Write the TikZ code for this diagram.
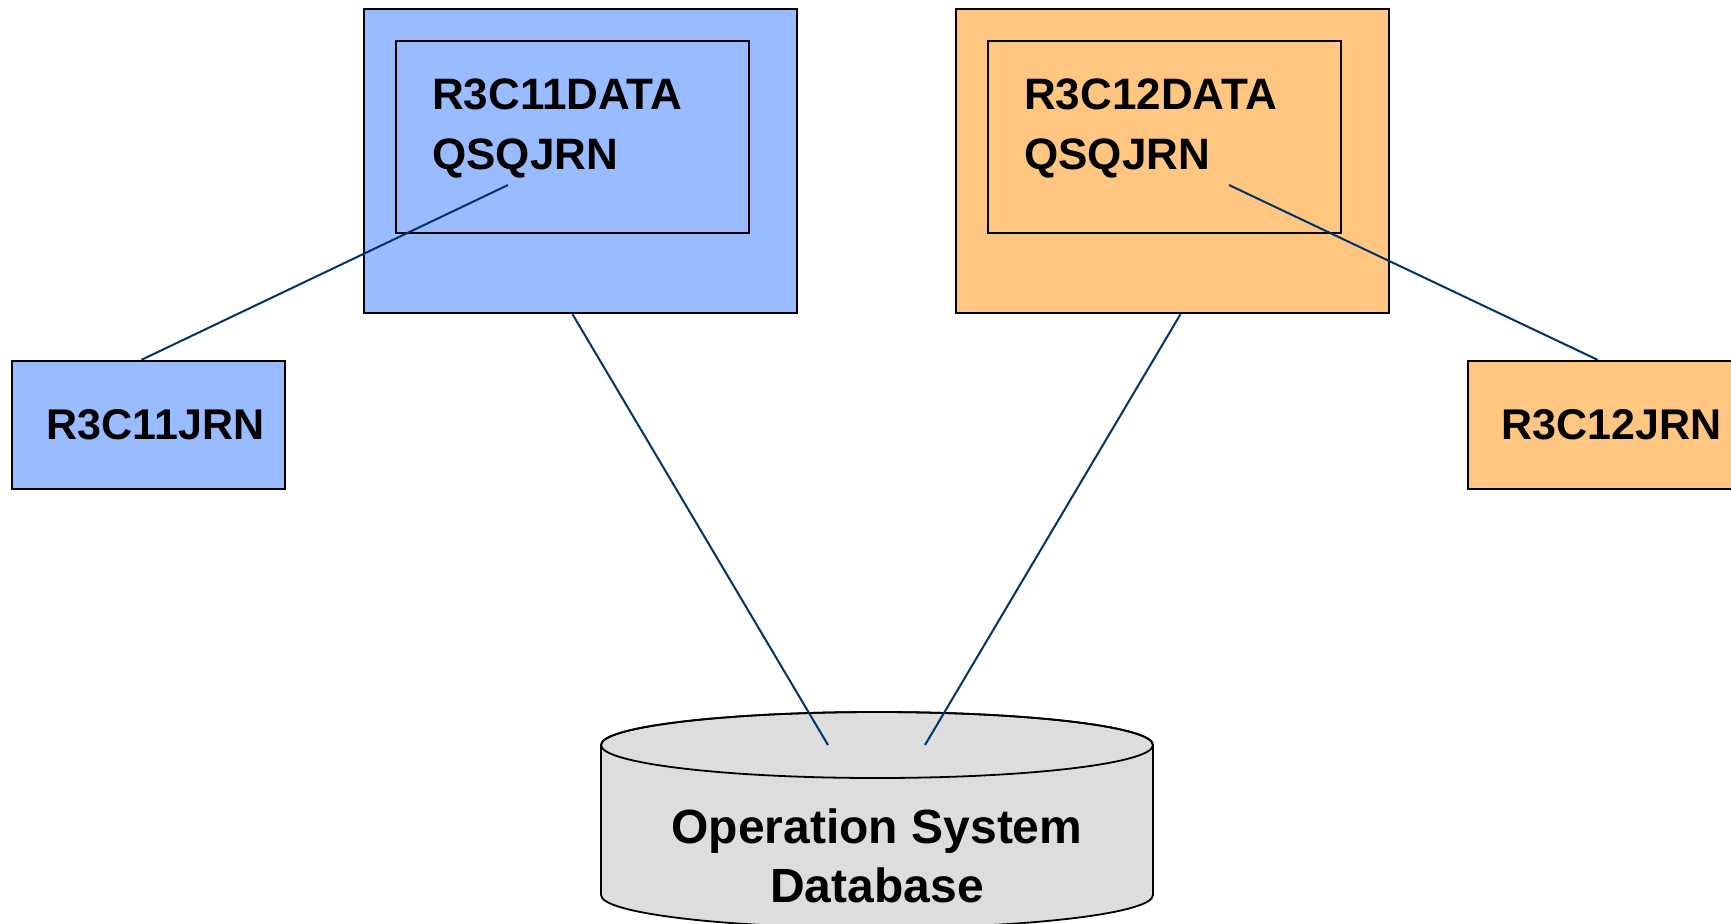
\documentclass[tikz,border=0pt]{standalone}
\usepackage{fontspec}
\setmainfont{Liberation Sans}
\usetikzlibrary{positioning}
\definecolor{libblue}{RGB}{153,187,255}
\definecolor{liborange}{RGB}{254,198,128}
\definecolor{dbgray}{RGB}{221,221,221}
\definecolor{linkblue}{RGB}{0,51,102}

\begin{document}
\begin{tikzpicture}[x=0.5pt,y=-0.5pt,
    outerbox/.style={draw=black,line width=1.2pt,minimum width=216.5pt,minimum height=152pt,inner sep=0pt},
    innerbox/.style={draw=black,line width=1.2pt,minimum width=176.5pt,minimum height=96pt,inner sep=0pt},
    jrnbox/.style={draw=black,line width=1.2pt,minimum width=136.5pt,minimum height=64pt,inner sep=0pt,
                   font=\fontsize{21.5}{26}\selectfont\bfseries},
    lbl/.style={inner sep=0pt,font=\fontsize{22}{26}\selectfont\bfseries},
    dblbl/.style={inner sep=0pt,font=\fontsize{24}{28}\selectfont\bfseries},
    link/.style={draw=linkblue,line width=1pt}]

 \useasboundingbox (0,0) rectangle (1731,923);

 % libraries
 \node[outerbox,fill=libblue](sys11) at (580.5,161) {};
 \node[innerbox,fill=libblue](lib11) at ([shift={(-8,-24)}]sys11.center) {};
 \node[lbl,anchor=base west](dat11) at ([shift={(37,70)}]lib11.north west) {R3C11DATA};
 \node[lbl,anchor=base west](jq11)  at ([shift={(0,60)}]dat11.base west)   {QSQJRN};

 \node[outerbox,fill=liborange](sys12) at (1172.5,161) {};
 \node[innerbox,fill=liborange](lib12) at ([shift={(-8,-24)}]sys12.center) {};
 \node[lbl,anchor=base west](dat12) at ([shift={(37,70)}]lib12.north west) {R3C12DATA};
 \node[lbl,anchor=base west](jq12)  at ([shift={(0,60)}]dat12.base west)   {QSQJRN};

 % journal receivers
 \node[jrnbox,fill=libblue](jrn11)   at (148.5,425)  {\hspace*{7pt}R3C11JRN};
 \node[jrnbox,fill=liborange](jrn12) at (1604.5,425) {\hspace*{7pt}R3C12JRN};

 % database
 \filldraw[fill=dbgray,draw=black,line width=0.9pt] (601,745) -- (601,895)
      arc[start angle=180,end angle=360,x radius=138pt,y radius=16.5pt]
      -- (1153,745)
      arc[start angle=0,end angle=180,x radius=138pt,y radius=16.5pt] -- cycle;
 \draw[line width=0.9pt] (877,745) ellipse[x radius=138pt,y radius=16.5pt];
 \node[dblbl,anchor=base](os) at (877,843) {Operation System};
 \node[dblbl,anchor=base](db) at (877,902) {Database};

 \coordinate (q11) at (508,185);
 \coordinate (q12) at (1229,185);
 \coordinate (dbl) at (828,745);
 \coordinate (dbr) at (925,745);

 \path[link] (q11) edge ([xshift=-3.5pt]jrn11.north)
             (q12) edge ([xshift=-3.5pt]jrn12.north)
             ([xshift=-4pt]sys11.south) edge (dbl)
             ([xshift=4pt]sys12.south) edge (dbr);

\end{tikzpicture}
\end{document}
